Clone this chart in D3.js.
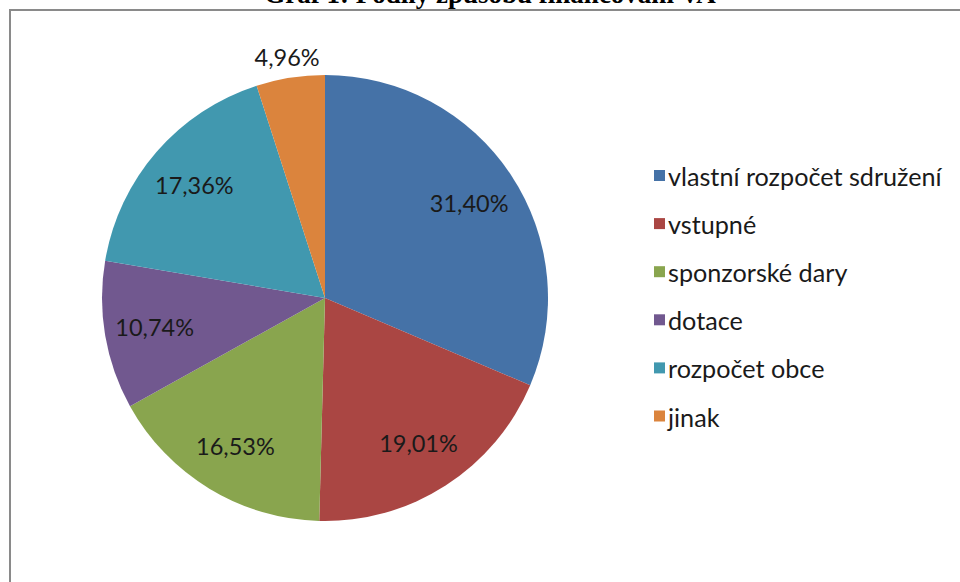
<!DOCTYPE html>
<html>
<head>
<meta charset="utf-8">
<script src="https://cdn.jsdelivr.net/npm/d3@7"></script>
<style>
  html, body { margin: 0; padding: 0; background: #fff; }
  svg { display: block; }
</style>
</head>
<body>
<svg id="chart" width="960" height="582"></svg>
<script>
// Shares of funding sources (percent)
const categories = ["vlastní rozpočet sdružení", "vstupné", "sponzorské dary", "dotace", "rozpočet obce", "jinak"];
const shares = [31.40, 19.01, 16.53, 10.74, 17.36, 4.96];
const colors = ["#4572A7", "#AA4643", "#89A54E", "#71588F", "#4198AF", "#DB843D"];
const title = "Graf 1: Podíly způsobu financování VA";

const svg = d3.select("#chart");
const W = 960, H = 582;

// Caption above the frame (its upper part runs past the top edge)
svg.append("text")
  .attr("x", 490).attr("y", 3)
  .attr("text-anchor", "middle")
  .attr("font-family", "'Liberation Serif', 'Times New Roman', serif")
  .attr("font-weight", "bold")
  .attr("font-size", 27)
  .attr("fill", "#000")
  .text(title);

// Chart frame (top and left edges visible)
svg.append("line").attr("x1", 9).attr("x2", W).attr("y1", 10).attr("y2", 10)
  .attr("stroke", "#8a8a8a").attr("stroke-width", 2);
svg.append("line").attr("x1", 10).attr("x2", 10).attr("y1", 9).attr("y2", H)
  .attr("stroke", "#8a8a8a").attr("stroke-width", 2);

const cx = 325, cy = 298, r = 223;
const data = categories.map((c, i) => ({ cat: c, value: shares[i], color: colors[i] }));

const pie = d3.pie().value(d => d.value).sort(null);
const arcs = pie(data);
const arc = d3.arc().innerRadius(0).outerRadius(r);
const labelArc = d3.arc().innerRadius(r * 0.775).outerRadius(r * 0.775);
const outerLabelArc = d3.arc().innerRadius(r * 1.095).outerRadius(r * 1.095);

const g = svg.append("g").attr("transform", `translate(${cx},${cy})`);
g.selectAll("path.slice").data(arcs).join("path")
  .attr("class", "slice")
  .attr("d", arc)
  .attr("fill", d => d.data.color);

const fmt = v => v.toFixed(2).replace(".", ",") + "%";
g.selectAll("text.lbl").data(arcs).join("text")
  .attr("class", "lbl")
  .attr("transform", d => {
    const p = d.data.value < 6 ? outerLabelArc.centroid(d) : labelArc.centroid(d);
    return `translate(${p[0]},${p[1]})`;
  })
  .attr("text-anchor", "middle")
  .attr("dominant-baseline", "central")
  .attr("font-family", "Lato, 'Open Sans', sans-serif")
  .attr("font-size", 23.5)
  .attr("fill", "#1a1a1a")
  .text(d => fmt(d.data.value));

// Legend
const legend = svg.append("g").attr("transform", "translate(654,175)");
const items = legend.selectAll("g").data(data).join("g")
  .attr("transform", (d, i) => `translate(0,${i * 48.1})`);
items.append("rect")
  .attr("x", 0).attr("y", -5).attr("width", 11).attr("height", 11)
  .attr("fill", d => d.color);
items.append("text")
  .attr("x", 14).attr("y", 1)
  .attr("dominant-baseline", "central")
  .attr("font-family", "Lato, 'Open Sans', sans-serif")
  .attr("font-size", 25.2)
  .attr("fill", "#1a1a1a")
  .text(d => d.cat);
</script>
</body>
</html>
